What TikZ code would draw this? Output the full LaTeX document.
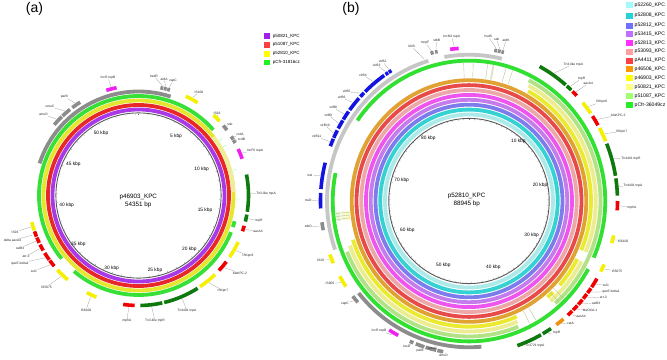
\documentclass[tikz,border=0pt]{standalone}
\usepackage{fontspec}
\setmainfont{Liberation Sans}
% ring colours panel (a)
\definecolor{caPur}{HTML}{A838E8}
\definecolor{caRed}{HTML}{E82828}
\definecolor{caYel}{HTML}{E6E62E}
\definecolor{caYelP}{HTML}{EEEE9A}
\definecolor{caGrn}{HTML}{36E036}
% feature colours
\definecolor{cGry}{HTML}{8C8C8C}
\definecolor{cLgry}{HTML}{C6C6C6}
\definecolor{cDg}{HTML}{0E7A0E}
\definecolor{cMag}{HTML}{F020F0}
\definecolor{cRed}{HTML}{F00000}
\definecolor{cYel}{HTML}{F4F000}
\definecolor{cOra}{HTML}{F09010}
\definecolor{cBlu}{HTML}{1414E0}
\definecolor{cHatch}{HTML}{B8C080}
% ring colours panel (b)
\definecolor{cbA}{HTML}{ACEAEA}
\definecolor{cbB}{HTML}{34D2D2}
\definecolor{cbC}{HTML}{7C7CEC}
\definecolor{cbD}{HTML}{C47CEC}
\definecolor{cbE}{HTML}{EE55EE}
\definecolor{cbF}{HTML}{ECA8A8}
\definecolor{cbG}{HTML}{E84A4A}
\definecolor{cbH}{HTML}{E0A232}
\definecolor{cbI}{HTML}{EAEA30}
\definecolor{cbJ}{HTML}{ECEC90}
\definecolor{cbK}{HTML}{B2E286}
\definecolor{cbL}{HTML}{32E032}
% legend colours
\definecolor{lgA}{HTML}{A0FAFA}
\definecolor{lgB}{HTML}{22D4D4}
\definecolor{lgC}{HTML}{7070FF}
\definecolor{lgD}{HTML}{C070FF}
\definecolor{lgE}{HTML}{FF30FF}
\definecolor{lgF}{HTML}{FFA0A0}
\definecolor{lgG}{HTML}{FF4040}
\definecolor{lgH}{HTML}{FF9900}
\definecolor{lgI}{HTML}{FFFF00}
\definecolor{lgJ}{HTML}{FFFF80}
\definecolor{lgK}{HTML}{A0FF70}
\definecolor{lgL}{HTML}{22F022}
\definecolor{laP}{HTML}{A020F0}

\newcommand{\rseg}[4]{\draw[#4] ({#2-90}:#1pt) arc[start angle={#2-90}, end angle={#3-90}, radius=#1pt];}
\newcommand{\rfe}[4]{\rseg{\FR}{#2}{#3}{feat,#4}\coordinate (#1) at ({(#2+#3)/2-90}:\FRL pt);}
\newcommand{\rlb}[3]{\node[lab] (l#1) at (#2) {#3}; \draw[lead] (#1) -- (l#1);}

\begin{document}
\begin{tikzpicture}[x=1pt,y=1pt,yscale=-1,
  lab/.style={font=\fontsize{3.3}{3.5}\selectfont, inner sep=0.3pt, text=black!85},
  tk/.style={font=\fontsize{4.8}{5}\selectfont, inner sep=0pt},
  ctr/.style={font=\fontsize{6.3}{8.3}\selectfont, align=center, inner sep=0pt},
  lead/.style={draw=black!45, line width=0.2pt},
  ring/.style={line width=3.8pt},
  feat/.style={line width=3.6pt},
  tickln/.style={line width=0.25pt, black!55},
  hatch/.style={line width=0.35pt, cHatch},
  sqa/.style={minimum size=5.6pt, inner sep=0pt},
  sqb/.style={minimum size=6.2pt, inner sep=0pt},
  lega/.style={font=\fontsize{4.5}{5}\selectfont, anchor=west, inner sep=0pt},
  legb/.style={font=\fontsize{5.1}{5.5}\selectfont, anchor=west, inner sep=0pt},
  plab/.style={font=\fontsize{14}{14}\selectfont, inner sep=0pt}
]
\useasboundingbox[fill=white] (0,0) rectangle (667,359);

% ================= panel (a) =================
\node[plab] (pa) at (34.5,8.5) {(a)};
\begin{scope}[shift={(138.5,195.5)}]
  \draw[ring, caPur] (0,0) circle[radius=86pt];
  \draw[ring, caRed] (0,0) circle[radius=90.5pt];
  \draw[ring, caYel] (0,0) circle[radius=95pt];
  \rseg{95}{52}{88}{ring, caYelP}
  \rseg{99.5}{-129.4}{48.7}{ring, caGrn}
  \rseg{99.5}{105}{108.5}{ring, caGrn}
  \rseg{99.5}{111.6}{220.4}{ring, caGrn}
  \foreach \a in {56,60,75,92} {\draw[line width=0.35pt, green!45] ({\a-90}:97.5pt) -- ({\a-90}:101.5pt);}
  \rseg{104}{-72}{18}{ring, cGry}
  \draw[line width=0.9pt, black!65] (0,0) circle[radius=82.6pt];
  \foreach \k in {0,...,54} {\draw[tickln] ({\k*6.6236-90}:82pt) -- ({\k*6.6236-90}:80.8pt);}
  \def\FR{110}\def\FRL{112.3}
  \rfe{a1}{-50}{-44.2}{cGry}
  \rfe{a2}{-43.7}{-38.5}{cGry}
  \rfe{a3}{-37}{-32}{cGry}
  \rfe{a4}{-17}{-11.5}{cMag}
  \rfe{a5}{11.5}{13}{cGry}
  \rfe{a6}{13.3}{14.8}{cGry}
  \rfe{a7}{15.1}{16.6}{cGry}
  \rfe{a8}{25.5}{32.5}{cYel}
  \rfe{a9}{43}{47.5}{cYel}
  \rfe{a10}{50.5}{53.5}{cGry}
  \rfe{a11}{57.5}{59.4}{cGry}
  \rfe{a12}{59.7}{61.5}{cGry}
  \rfe{a13}{65}{70.5}{cMag}
  \rfe{a14}{79}{98.5}{cDg}
  \rfe{a15}{100}{103.7}{cDg}
  \rfe{a16}{106}{109}{cRed}
  \rfe{a17}{115}{124}{cYel}
  \rfe{a18}{127}{133}{cRed}
  \rfe{a19}{136}{146}{cYel}
  \rfe{a20}{147.5}{166.5}{cDg}
  \rfe{a21}{167.5}{179}{cDg}
  \rfe{a22}{182}{188}{cRed}
  \rfe{a23}{202.5}{208}{cYel}
  \rfe{a24}{220}{227.5}{cYel}
  \rfe{a25}{230}{233.8}{cRed}
  \rfe{a26}{234.2}{238.5}{cRed}
  \rfe{a27}{240}{243.5}{cRed}
  \rfe{a28}{244.5}{247.5}{cRed}
  \rfe{a29}{248}{251}{cRed}
  \rfe{a30}{251.5}{256}{cYel}
\end{scope}
\rlb{a1}{43.3,114.3}{umuD}
\rlb{a2}{50,106.7}{umuC}
\rlb{a3}{64.3,96.7}{parB}
\rlb{a4}{108,77.3}{IncR repB}
\rlb{a5}{154,76}{hsdR}
\rlb{a6}{164,79}{ardA}
\rlb{a7}{173,81}{vapC}
\rlb{a8}{199,92}{IS100}
\rlb{a9}{217,113}{IS26}
\rlb{a10}{230,124}{ssb}
\rlb{a11}{240,134.5}{ccdA}
\rlb{a12}{241.5,139}{ccdB}
\rlb{a13}{255,151}{IncFII repA}
\rlb{a14}{266,194}{Tn3-like tnpA}
\rlb{a15}{259,221}{tnpR}
\rlb{a16}{258,231.5}{aacA4}
\rlb{a17}{248,255.5}{ISKpn6}
\rlb{a18}{240,273}{blaKPC-2}
\rlb{a19}{223,290.5}{ISKpn7}
\rlb{a20}{187,311}{Tn4401 tnpA}
\rlb{a21}{155,321}{Tn3-like tnpR}
\rlb{a22}{127,321}{mphA}
\rlb{a23}{86,310}{IS6100}
\rlb{a24}{46.5,287}{IS5075}
\rlb{a25}{34,271}{sul1}
\rlb{a26}{20,263.5}{qacE delta1}
\rlb{a27}{26,256.5}{arr-3}
\rlb{a28}{20,248}{catB3}
\rlb{a29}{12.5,240.5}{delta aacA4}
\rlb{a30}{15,232}{IS26}
% tick labels (a)
\node[tk] (ta5) at (176,136.7) {5 kbp};
\node[tk] (ta10) at (201.7,169.3) {10 kbp};
\node[tk] (ta15) at (205,210.7) {15 kbp};
\node[tk] (ta20) at (189.3,249) {20 kbp};
\node[tk] (ta25) at (155,270) {25 kbp};
\node[tk] (ta30) at (111.7,268.5) {30 kbp};
\node[tk] (ta35) at (78.3,244.3) {35 kbp};
\node[tk] (ta40) at (66.7,205.7) {40 kbp};
\node[tk] (ta45) at (73.3,164) {45 kbp};
\node[tk] (ta50) at (101,133.7) {50 kbp};
\node[ctr] (ca) at (138.3,200.8) {p46903\_KPC\\54351 bp};
% legend (a)
\node[sqa, fill=laP] (qa1) at (267.2,36) {};
\node[sqa, fill=lgG] (qa2) at (267.2,44.8) {};
\node[sqa, fill=lgI] (qa3) at (267.2,53.7) {};
\node[sqa, fill=lgL] (qa4) at (267.2,62.6) {};
\node[lega] (xa1) at (272.7,36) {p50821\_KPC};
\node[lega] (xa2) at (272.7,44.8) {p51087\_KPC};
\node[lega] (xa3) at (272.7,53.7) {p52810\_KPC};
\node[lega] (xa4) at (272.7,62.6) {pCfr-31816cz};

% ================= panel (b) =================
\node[plab] (pb) at (351,8.5) {(b)};
\begin{scope}[shift={(469,201)}, yscale=1.03]
  \draw[ring, cbA] (0,0) circle[radius=84pt];
  \draw[ring, cbB] (0,0) circle[radius=88.75pt];
  \draw[ring, cbC] (0,0) circle[radius=93.5pt];
  \draw[ring, cbD] (0,0) circle[radius=98.25pt];
  \draw[ring, cbE] (0,0) circle[radius=103pt];
  \draw[ring, cbF] (0,0) circle[radius=107.75pt];
  \draw[ring, cbG] (0,0) circle[radius=112.5pt];
  \draw[ring, cbH] (0,0) circle[radius=117.25pt];
  \rseg{122}{29}{113}{ring, cbI}
  \rseg{122}{117.5}{132}{ring, cbI}
  \rseg{122}{136.5}{140}{ring, cbI}
  \rseg{122}{157}{252}{ring, cbI}
  \rseg{126.75}{28}{113}{ring, cbJ}
  \rseg{126.75}{117.5}{140}{ring, cbJ}
  \rseg{126.75}{157.5}{250}{ring, cbJ}
  \rseg{131.5}{27}{139}{ring, cbK}
  \rseg{131.5}{158}{248}{ring, cbK}
  \rseg{136.25}{-55}{113.8}{ring, cbL}
  \rseg{136.25}{119}{281.5}{ring, cbL}
  % faint hatched similarity traces
  \foreach \a in {-2.3,1.8,8,16,19} {\draw[hatch] ({\a-90}:120pt) -- ({\a-90}:134pt);}
  \draw[line width=1.6pt, cHatch!50] ({10.5-90}:120pt) -- ({10.5-90}:134pt);
  \rseg{122}{261.5}{265.5}{ring, cbI!30}
  \rseg{126.75}{261.5}{265.5}{ring, cbJ!40}
  \rseg{131.5}{261.5}{265.5}{ring, cbK!35}
  \foreach \a in {262.2,263.5,264.8} {\draw[hatch] ({\a-90}:120pt) -- ({\a-90}:134pt);}
  \foreach \a in {135,137.5,150,153} {\draw[hatch] ({\a-90}:119.5pt) -- ({\a-90}:133.5pt);}
  % backbone / feature rings
  \rseg{142}{-109.4}{-16.6}{ring, cLgry}
  \rseg{142}{-10}{13.4}{ring, cLgry}
  \rseg{142}{175}{231}{ring, cGry}
  \coordinate (bk0) at ({-18-90}:145pt);
  \draw[line width=0.9pt, black!65] (0,0) circle[radius=80.2pt];
  \foreach \k in {0,...,88} {\draw[tickln] ({\k*4.0475-90}:79.7pt) -- ({\k*4.0475-90}:78.6pt);}
  \def\FR{148.5}\def\FRL{150.8}
  \rfe{b1}{28.4}{40.6}{cDg}
  \rfe{b2}{41.2}{43.5}{cDg}
  \rfe{b3}{44.2}{46.5}{cRed}
  \rfe{b4}{50}{55}{cYel}
  \rfe{b5}{56.3}{60.3}{cRed}
  \rfe{b6}{61.5}{67}{cYel}
  \rfe{b7}{68}{80.5}{cDg}
  \rfe{b8}{81.5}{88}{cDg}
  \rfe{b9}{90}{93.5}{cRed}
  \rfe{b10}{103}{106}{cYel}
  \rfe{b11}{114.5}{117.5}{cYel}
  \rfe{b12}{120.5}{124.3}{cRed}
  \rfe{b13}{124.8}{127}{cRed}
  \rfe{b14}{127.5}{129.7}{cRed}
  \rfe{b15}{130.2}{132.6}{cRed}
  \rfe{b16}{133.1}{135.5}{cRed}
  \rfe{b17}{136}{138.3}{cRed}
  \rfe{b18}{140.5}{144}{cOra}
  \rfe{b19}{146.5}{150.2}{cDg}
  \rfe{b20}{151}{161}{cDg}
  \rfe{b22}{190}{192.3}{cGry}
  \rfe{b23}{192.7}{197}{cGry}
  \rfe{b24}{197.5}{201}{cGry}
  \rfe{b25}{202}{203.5}{cGry}
  \rfe{b26}{208.5}{212.5}{cMag}
  \rfe{b27}{228.5}{231.5}{cGry}
  \rfe{b28}{236}{240.5}{cYel}
  \rfe{b29}{246}{249.5}{cYel}
  \rfe{b30}{259}{262}{cGry}
  \rfe{b31}{267.2}{273}{cBlu}
  \rfe{b32}{274.5}{284.5}{cBlu}
  \rfe{b33}{291}{294}{cBlu}
  \rfe{b34}{294.4}{297.5}{cBlu}
  \rfe{b35}{298.3}{301.8}{cBlu}
  \rfe{b36}{302.2}{305.8}{cBlu}
  \rfe{b37}{306.5}{312.2}{cBlu}
  \rfe{b38}{313}{315}{cBlu}
  \rfe{b39}{315.6}{325.2}{cBlu}
  \rfe{b40}{325.8}{327}{cBlu}
  \rfe{b41}{327.3}{328.5}{cBlu}
  \rfe{b42}{345}{346.2}{cGry}
  \rfe{b43}{346.8}{347.8}{cGry}
  \rfe{b44}{352.7}{356}{cMag}
  \rfe{b45}{9.8}{10.9}{cGry}
  \rfe{b46}{11.2}{12.3}{cGry}
  \rfe{b47}{12.6}{13.6}{cGry}
\end{scope}
\rlb{b1}{573.3,64.3}{Tn3-like tnpA}
\rlb{b2}{581.7,78.3}{tnpR}
\rlb{b3}{588.3,83.3}{aacA4}
\rlb{b4}{601.7,101.7}{ISKpn6}
\rlb{b5}{618.3,115}{blaKPC-2}
\rlb{b6}{621.7,131.7}{ISKpn7}
\rlb{b7}{631,158.3}{Tn4401 tnpR}
\rlb{b8}{633,186}{Tn4401 tnpA}
\rlb{b9}{632,207.7}{mphA}
\rlb{b10}{623,241}{IS6100}
\rlb{b11}{617,271}{IS5075}
\rlb{b12}{606,285}{sul1}
\rlb{b13}{611,291.7}{qacE delta1}
\rlb{b14}{603.3,297}{arr-3}
\rlb{b15}{596,303}{catB3}
\rlb{b16}{590,310}{blaOXA-1}
\rlb{b17}{581,316.5}{aacA4}
\rlb{b18}{570.5,323.5}{catA}
\rlb{b19}{556.7,333}{tnpR}
\rlb{b20}{535,345.5}{Tn1721 tnpA}
\rlb{b22}{443.3,355.5}{umuD}
\rlb{b23}{432.7,348.3}{umuC}
\rlb{b24}{420,350.7}{parB}
\rlb{b25}{406.7,346.7}{resD}
\rlb{b26}{379,331}{IncR repB}
\rlb{b27}{345,303.3}{vapC}
\rlb{b28}{330,283.3}{IS903}
\rlb{b29}{320.7,260}{IS26}
\rlb{b30}{308.3,226.7}{stbD}
\rlb{b31}{308.3,200}{traD}
\rlb{b32}{310,175}{traI}
\rlb{b33}{316.7,136.7}{virB11}
\rlb{b34}{325,125}{virB10}
\rlb{b35}{328.3,115}{virB9}
\rlb{b36}{333.3,107.3}{virB8}
\rlb{b37}{341.7,97.3}{virB6}
\rlb{b38}{346.7,91.7}{virB5}
\rlb{b39}{363,75}{virB4}
\rlb{b40}{376.7,65}{virB3}
\rlb{b41}{382.7,61.7}{virB2}
\rlb{bk0}{411.7,46.7}{klcB}
\rlb{b42}{425,42.7}{mcpF}
\rlb{b43}{436.7,40.7}{stbB}
\rlb{b44}{451.7,36.7}{IncN3 repA}
\rlb{b45}{488.3,36.7}{hsdS}
\rlb{b46}{496.7,39.3}{ssb}
\rlb{b47}{506,40}{ardK}
% tick labels (b)
\node[tk] (tb10) at (518.3,141) {10 kbp};
\node[tk] (tb20) at (540,185.7) {20 kbp};
\node[tk] (tb30) at (531.7,235.7) {30 kbp};
\node[tk] (tb40) at (493.3,267.3) {40 kbp};
\node[tk] (tb50) at (443.3,265.7) {50 kbp};
\node[tk] (tb60) at (407.3,230.7) {60 kbp};
\node[tk] (tb70) at (401.7,180) {70 kbp};
\node[tk] (tb80) at (428.3,138.3) {80 kbp};
\node[ctr] (cb) at (466.7,200.3) {p52810\_KPC\\88945 bp};
% legend (b)
\node[sqb, fill=lgA] (qb1) at (629.5,5.3) {};
\node[sqb, fill=lgB] (qb2) at (629.5,15.7) {};
\node[sqb, fill=lgC] (qb3) at (629.5,25.7) {};
\node[sqb, fill=lgD] (qb4) at (629.5,34.3) {};
\node[sqb, fill=lgE] (qb5) at (629.5,43) {};
\node[sqb, fill=lgF] (qb6) at (629.5,51.7) {};
\node[sqb, fill=lgG] (qb7) at (629.5,60.7) {};
\node[sqb, fill=lgH] (qb8) at (629.5,69.3) {};
\node[sqb, fill=lgI] (qb9) at (629.5,78.3) {};
\node[sqb, fill=lgJ] (qb10) at (629.5,87.3) {};
\node[sqb, fill=lgK] (qb11) at (629.5,96) {};
\node[sqb, fill=lgL] (qb12) at (629.5,105) {};
\node[legb] (xb1) at (634.5,5.3) {p52260\_KPC};
\node[legb] (xb2) at (634.5,15.7) {p52808\_KPC};
\node[legb] (xb3) at (634.5,25.7) {p52812\_KPC};
\node[legb] (xb4) at (634.5,34.3) {p53415\_KPC};
\node[legb] (xb5) at (634.5,43) {p52813\_KPC};
\node[legb] (xb6) at (634.5,51.7) {p53093\_KPC};
\node[legb] (xb7) at (634.5,60.7) {pA4411\_KPC};
\node[legb] (xb8) at (634.5,69.3) {p46506\_KPC};
\node[legb] (xb9) at (634.5,78.3) {p46903\_KPC};
\node[legb] (xb10) at (634.5,87.3) {p50821\_KPC};
\node[legb] (xb11) at (634.5,96) {p51087\_KPC};
\node[legb] (xb12) at (634.5,105) {pCfr-36049cz};
\end{tikzpicture}
\end{document}
